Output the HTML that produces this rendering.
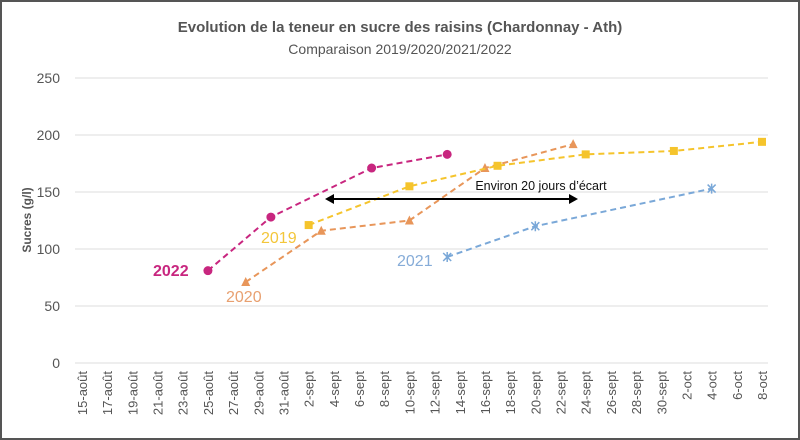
<!DOCTYPE html>
<html><head><meta charset="utf-8"><style>
body{margin:0;background:#fff}
svg{display:block;font-family:"Liberation Sans",sans-serif}
</style></head><body>
<svg width="800" height="440" viewBox="0 0 800 440">
<rect x="1" y="1" width="798" height="438" fill="#fff" stroke="#555" stroke-width="2"/>
<text x="400" y="32" text-anchor="middle" font-size="15" font-weight="bold" fill="#555">Evolution de la teneur en sucre des raisins (Chardonnay - Ath)</text>
<text x="400" y="54" text-anchor="middle" font-size="14" fill="#555">Comparaison 2019/2020/2021/2022</text>
<text transform="translate(31,220) rotate(-90)" text-anchor="middle" font-size="12" font-weight="bold" fill="#555">Sucres (g/l)</text>
<g id="grid"></g><g id="xt"></g><g id="series"></g>
<g>
<line x1="332" y1="199" x2="571" y2="199" stroke="#000" stroke-width="2"/>
<polygon points="325,199 334,194 334,204" fill="#000"/>
<polygon points="578,199 569,194 569,204" fill="#000"/>
<text x="541" y="190" text-anchor="middle" font-size="12.5" fill="#111">Environ 20 jours d’écart</text>
</g>
<text x="153" y="276" font-size="16" font-weight="bold" fill="#c8267f">2022</text>
<text x="261" y="243" font-size="16" fill="#f3c63a">2019</text>
<text x="226" y="302" font-size="16" fill="#e8a070">2020</text>
<text x="397" y="266" font-size="16" fill="#86acd8">2021</text>
</svg>
<script>
const yTicks=[0,50,100,150,200,250];
const xLabels=["15-août","17-août","19-août","21-août","23-août","25-août","27-août","29-août","31-août","2-sept","4-sept","6-sept","8-sept","10-sept","12-sept","14-sept","16-sept","18-sept","20-sept","22-sept","24-sept","26-sept","28-sept","30-sept","2-oct","4-oct","6-oct","8-oct"];
// days since 15 Aug
const days2022=[10,15,23,29];const vals2022=[81,128,171,183];
const days2019=[18,26,33,40,47,54];const vals2019=[121,155,173,183,186,194];
const days2020=[13,19,26,32,39];const vals2020=[71,116,125,171,192];
const days2021=[29,36,50];const vals2021=[93,120,153];
const NS="http://www.w3.org/2000/svg";
const xs=d=>82+d*(680/54), ys=v=>363-v*1.14;
function mk(t,a,p){const e=document.createElementNS(NS,t);for(const k in a)e.setAttribute(k,a[k]);p.appendChild(e);return e;}
const g=document.getElementById('grid');
yTicks.forEach(v=>{
 const l=mk('line',{x1:75,x2:768,y1:ys(v),y2:ys(v),stroke:'#ddd','stroke-width':1},g);
 
 
 const t=mk('text',{x:60,y:ys(v)+5,'text-anchor':'end','font-size':14,fill:'#555'},g);t.textContent=v;
 
 
});
const xt=document.getElementById('xt');
xLabels.forEach((s,i)=>{
 const x=xs(i*2);
 const t=mk('text',{transform:`translate(${x+5},371) rotate(-90)`,'text-anchor':'end','font-size':13,fill:'#555'},xt);t.textContent=s;
 
 
});
const S=document.getElementById('series');
function series(name,days,vals,color,marker){
 const pts=days.map((d,i)=>xs(d)+','+ys(vals[i])).join(' ');
 const pl=mk('polyline',{points:pts,fill:'none',stroke:color,'stroke-width':2,'stroke-dasharray':'6,4'},S);
 
 
 days.forEach((d,i)=>{
  const x=xs(d),y=ys(vals[i]);let m;
  if(marker==='circle')m=mk('circle',{cx:x,cy:y,r:4.5,fill:color},S);
  else if(marker==='square')m=mk('rect',{x:x-4,y:y-4,width:8,height:8,fill:color},S);
  else if(marker==='tri')m=mk('polygon',{points:`${x},${y-5} ${x-4.5},${y+4} ${x+4.5},${y+4}`,fill:color},S);
  else m=mk('path',{d:`M${x-4},${y-4}L${x+4},${y+4}M${x+4},${y-4}L${x-4},${y+4}M${x},${y-5}L${x},${y+5}`,stroke:color,'stroke-width':1.5},S);
  
  
 });
}
series('series-2020',days2020,vals2020,'#e8965a','tri');
series('series-2019',days2019,vals2019,'#f5c42c','square');
series('series-2021',days2021,vals2021,'#7aa8d8','x');
series('series-2022',days2022,vals2022,'#c8267f','circle');
</script>
</body></html>
